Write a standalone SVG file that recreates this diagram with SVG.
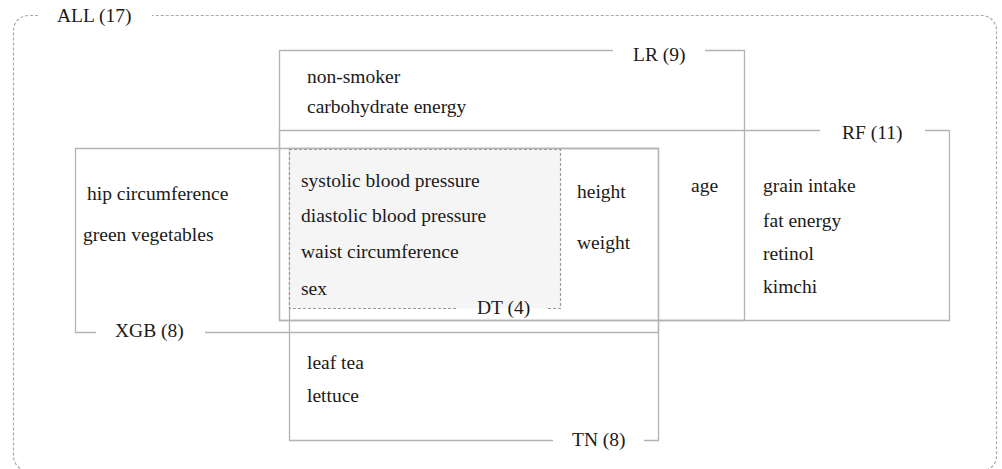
<svg xmlns="http://www.w3.org/2000/svg" width="1002" height="469" viewBox="0 0 1002 469">
<style>
.bx{fill:none;stroke:#b3b3b3;stroke-width:1.3}
.all{fill:none;stroke:#aaaaaa;stroke-width:1.2;stroke-dasharray:3 2}
.dt{fill:none;stroke:#9a9a9a;stroke-width:1.2;stroke-dasharray:3 2}
text{font-family:"Liberation Serif","Times New Roman",serif;font-size:19.5px;fill:#1a1a1a}
</style>
<rect width="1002" height="469" fill="#ffffff"/>
<g id="ALL">
<path class="all" d="M38,15.5 H28 A15,15 0 0 0 13.5,30 V456 A15,15 0 0 0 28,471 H982 A15,15 0 0 0 996.5,456 V30 A15,15 0 0 0 982,15.5 H152"/>
<text x="57" y="22">ALL (17)</text>
</g>
<g id="LR">
<path class="bx" d="M613,50.5 H279.5 V320.5 H744.5 V50.5 H705"/>
<text x="633" y="61">LR (9)</text>
<text x="307" y="83">non-smoker</text>
<text x="307" y="113">carbohydrate energy</text>
</g>
<g id="RF">
<path class="bx" d="M820,130.5 H279.5 V320.5 H949.5 V130.5 H925"/>
<text x="842" y="139">RF (11)</text>
<text x="691" y="192">age</text>
<text x="763" y="192">grain intake</text>
<text x="763" y="227">fat energy</text>
<text x="763" y="260">retinol</text>
<text x="763" y="293">kimchi</text>
</g>
<g id="XGB">
<path class="bx" d="M96,332.5 H75.5 V148.5 H658.5 V332.5 H205"/>
<text x="115" y="337">XGB (8)</text>
<text x="87" y="200">hip circumference</text>
<text x="83" y="241">green vegetables</text>
</g>
<g id="TN">
<path class="bx" d="M553,440.5 H289.5 V148.5 H658.5 V440.5 H644"/>
<text x="572" y="446">TN (8)</text>
<text x="577" y="198">height</text>
<text x="577" y="249">weight</text>
<text x="307" y="369">leaf tea</text>
<text x="307" y="402">lettuce</text>
</g>
<g id="DT">
<rect x="289.5" y="149.5" width="271" height="159" fill="#f5f5f5"/>
<path class="dt" d="M456,308.5 H289.5 V149.5 H560.5 V308.5 H548"/>
<text x="477" y="314">DT (4)</text>
<text x="301" y="187">systolic blood pressure</text>
<text x="301" y="222">diastolic blood pressure</text>
<text x="301" y="258">waist circumference</text>
<text x="301" y="295">sex</text>
</g>
<g id="connectors"/>
</svg>
